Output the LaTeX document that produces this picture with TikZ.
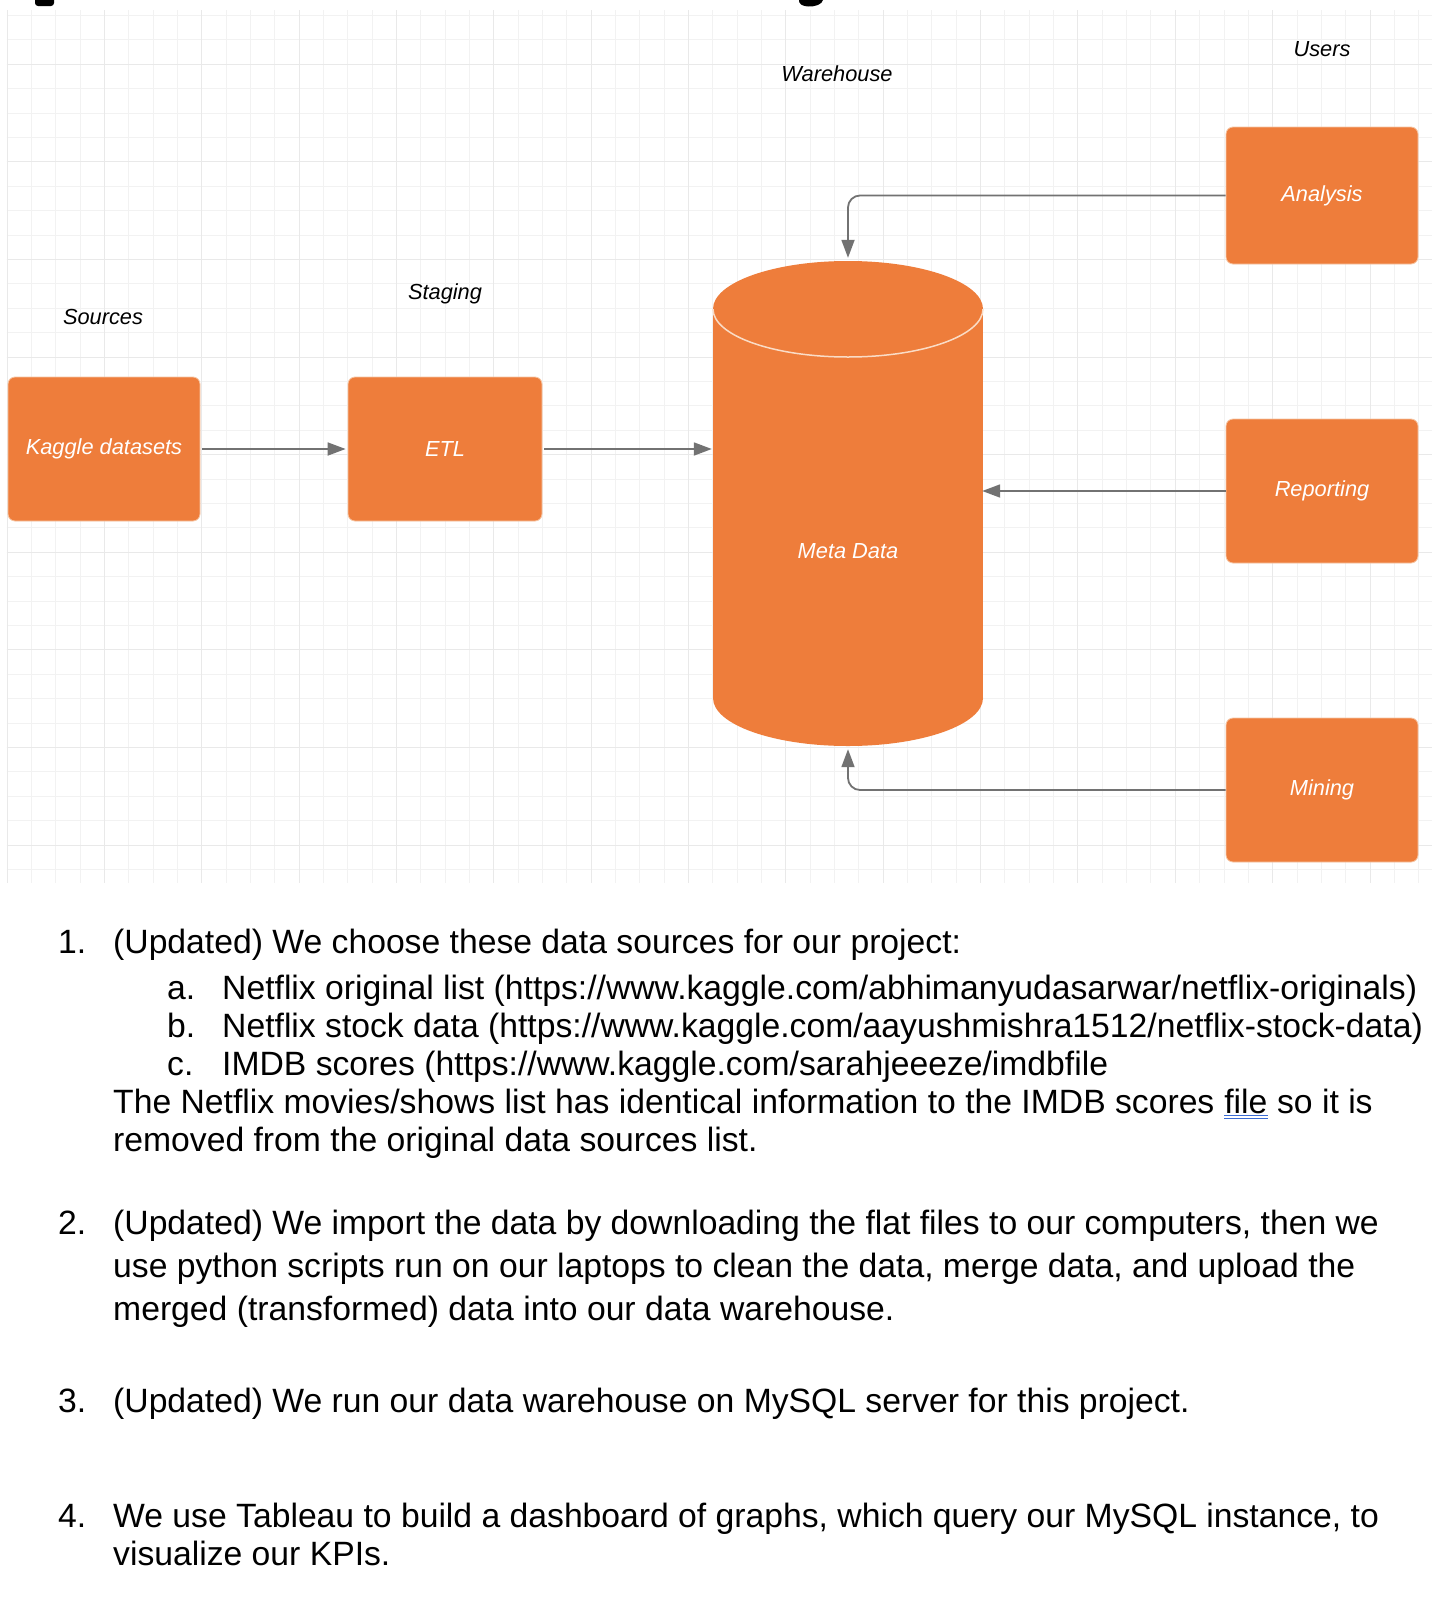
\documentclass[tikz,border=0pt]{standalone}
\usepackage{fontspec}
\setmainfont{Liberation Sans}[Ligatures=NoCommon]
\usetikzlibrary{arrows.meta}
\definecolor{boxorange}{HTML}{EE7D3B}
\definecolor{boxedge}{HTML}{F6C6A4}
\definecolor{arcline}{HTML}{FADCC6}
\definecolor{minorg}{HTML}{F2F2F2}
\definecolor{majorg}{HTML}{E9E9E9}
\definecolor{connc}{HTML}{727272}
\definecolor{ulblue}{HTML}{3A6BD4}
\tikzset{
  minorgrid/.style={draw=minorg, line width=1pt},
  majorgrid/.style={draw=majorg, line width=1pt},
  orangebox/.style={rectangle, rounded corners=7pt, fill=boxorange, draw=boxedge, line width=0.8pt,
    text=white, inner sep=0pt, font=\fontsize{21.8}{26}\selectfont\itshape},
  lbl/.style={inner sep=0pt, font=\fontsize{21.8}{26}\selectfont\itshape, text=black},
  conn/.style={draw=connc, line width=1.8pt, -{Triangle[length=18pt, width=13pt]}},
  body/.style={inner sep=0pt, anchor=base west, font=\fontsize{33.7}{38}\selectfont, text=black},
}
\begin{document}
\begin{tikzpicture}[x=1pt, y=-1pt]
\useasboundingbox (0,0) rectangle (1446,1606);
\fill[white] (0,0) rectangle (1446,1606);

% grid
\foreach \i in {0,...,58} {
  \pgfmathsetmacro\xx{7+24.34*\i}
  \draw[minorgrid] (\xx,10) -- (\xx,883);
}
\foreach \j in {0,...,35} {
  \pgfmathsetmacro\yy{15.5+24.4*\j}
  \draw[minorgrid] (6.5,\yy) -- (1432,\yy);
}
\foreach \i in {0,...,14} {
  \pgfmathsetmacro\xx{7+97.36*\i}
  \draw[majorgrid] (\xx,10) -- (\xx,883);
}
\foreach \j in {0,...,8} {
  \pgfmathsetmacro\yy{64.3+97.6*\j}
  \draw[majorgrid] (6.5,\yy) -- (1432,\yy);
}

% cut-off title remnants
\fill[black, rounded corners=3pt] (35,-4) rectangle (54,6);
\fill[black] (799,0) -- (823,0) .. controls (822,4.5) and (815,6.8) .. (808,6.5) .. controls (802,6.2) and (798.5,3.5) .. (799,0) -- cycle;

% section labels
\node[lbl] (lsrc) at (103,317) {Sources};
\node[lbl] (lstg) at (445,294) {Staging};
\node[lbl] (lwh) at (837,74) {Warehouse};
\node[lbl] (lusr) at (1322,49) {Users};

% boxes
\node[orangebox, minimum width=192pt, minimum height=144pt] (kaggle) at (104,449) {Kaggle datasets};
\node[orangebox, minimum width=194pt, minimum height=144pt] (etl) at (445,449) {ETL};
\node[orangebox, minimum width=192pt, minimum height=137pt] (analysis) at (1322,195.5) {Analysis};
\node[orangebox, minimum width=192pt, minimum height=144pt] (reporting) at (1322,491) {Reporting};
\node[orangebox, minimum width=192pt, minimum height=144pt] (mining) at (1322,790) {Mining};

% cylinder
\node[minimum width=270pt, minimum height=485pt, inner sep=0pt] (cyl) at (848,503.5) {};
\fill[boxorange] (713,309) rectangle (983,698);
\fill[boxorange] (848,698) ellipse[x radius=135, y radius=48];
\fill[boxorange] (848,309) ellipse[x radius=135, y radius=48];
\begin{scope}
  \clip (700,309) rectangle (1000,400);
  \draw[arcline, line width=1.5pt] (848,309) ellipse[x radius=135, y radius=48];
\end{scope}
\node[lbl, text=white] (meta) at (848,551) {Meta Data};

% connectors
\draw[conn, shorten <=2pt, shorten >=2pt] (kaggle.east) -- (etl.west);
\draw[conn, shorten <=2pt, shorten >=1pt] (etl.east) -- (etl.east -| cyl.west);
\draw[conn, shorten >=-1pt] (reporting.west) -- (reporting.west -| cyl.east);
\draw[conn, rounded corners=12pt, shorten >=3pt] (analysis.west) -| (cyl.north);
\draw[conn, rounded corners=12pt, shorten >=3pt] (mining.west) -| (cyl.south);

% text
\node[body] (n1) at (58,953) {1.};
\node[body] (t1) at (113,953) {(Updated) We choose these data sources for our project:};
\node[body] (na) at (167,999) {a.};
\node[body] (ta) at (222,999) {Netflix original list (https://www.kaggle.com/abhimanyudasarwar/netflix-originals)};
\node[body] (nb) at (167,1037) {b.};
\node[body] (tb) at (222,1037) {Netflix stock data (https://www.kaggle.com/aayushmishra1512/netflix-stock-data)};
\node[body] (nc) at (167,1075) {c.};
\node[body] (tc) at (222,1075) {IMDB scores (https://www.kaggle.com/sarahjeeeze/imdbfile};
\node[body] (td1) at (113,1113) {The Netflix movies/shows list has identical information to the IMDB scores};
\node[body, xshift=9.37pt] (tfile) at (td1.base east) {file};
\node[body] (td2) at (tfile.base east) {~so it is};
\draw[ulblue, line width=1.4pt] ([yshift=-2.5pt]tfile.base west) -- ([yshift=-2.5pt]tfile.base east);
\draw[ulblue, line width=1.4pt] ([yshift=-5.5pt]tfile.base west) -- ([yshift=-5.5pt]tfile.base east);
\node[body] (te) at (113,1151) {removed from the original data sources list.};
\node[body] (n2) at (58,1234) {2.};
\node[body] (t2a) at (113,1234) {(Updated) We import the data by downloading the flat files to our computers, then we};
\node[body] (t2b) at (113,1277) {use python scripts run on our laptops to clean the data, merge data, and upload the};
\node[body] (t2c) at (113,1320) {merged (transformed) data into our data warehouse.};
\node[body] (n3) at (58,1412) {3.};
\node[body] (t3) at (113,1412) {(Updated) We run our data warehouse on MySQL server for this project.};
\node[body] (n4) at (58,1527) {4.};
\node[body] (t4a) at (113,1527) {We use Tableau to build a dashboard of graphs, which query our MySQL instance, to};
\node[body] (t4b) at (113,1565) {visualize our KPIs.};
\end{tikzpicture}
\end{document}
